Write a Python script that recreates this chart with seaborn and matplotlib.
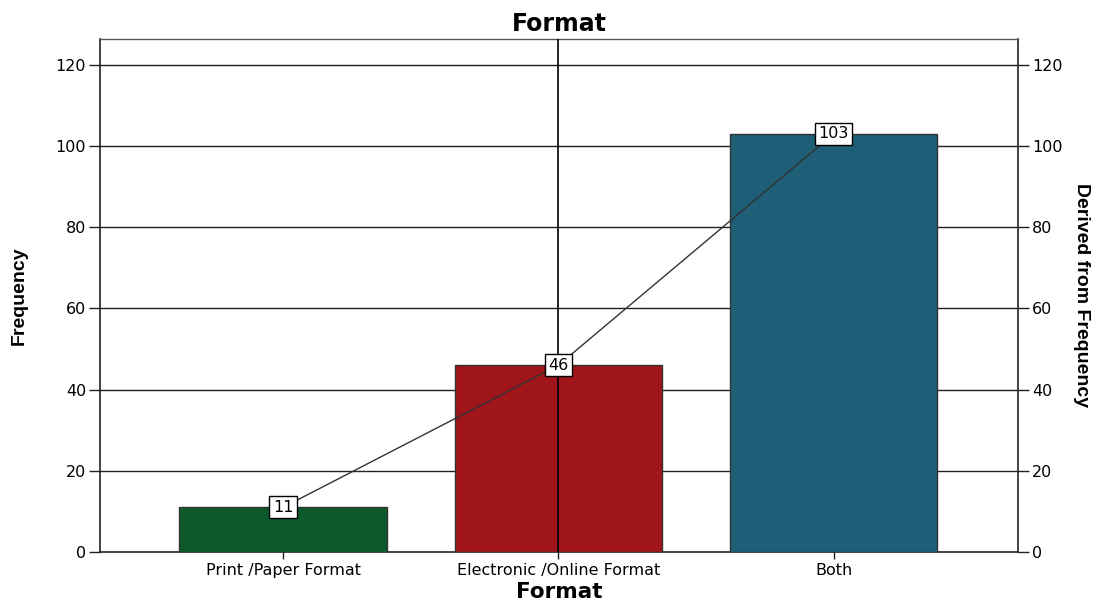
import matplotlib
matplotlib.use("Agg")
import matplotlib.pyplot as plt
import seaborn as sns
import pandas as pd
from matplotlib import font_manager

categories = ["Print /Paper Format", "Electronic /Online Format", "Both"]
frequencies = [11, 46, 103]
bar_colors = ["#0c5a2c", "#a0151a", "#1e5e76"]
y_ticks = [0, 20, 40, 60, 80, 100, 120]

sns.set_theme(style="white")
plt.rcParams["font.family"] = ["DejaVu Sans"]
plt.rcParams["text.color"] = "black"
plt.rcParams["axes.labelcolor"] = "black"
plt.rcParams["xtick.color"] = "black"
plt.rcParams["ytick.color"] = "black"

names = {f.name for f in font_manager.fontManager.ttflist}
narrow = "Liberation Sans Narrow" if "Liberation Sans Narrow" in names else "Liberation Sans"

df = pd.DataFrame({"Format": categories, "Frequency": frequencies})

fig = plt.figure(figsize=(10.93, 6.06), dpi=100)
ax = fig.add_axes([100 / 1093, 1 - 552 / 606, 918 / 1093, 513 / 606])

sns.barplot(data=df, x="Format", y="Frequency", hue="Format",
            palette=bar_colors, width=0.753, edgecolor="#333333",
            linewidth=1.0, legend=False, ax=ax, zorder=3, saturation=1)

ax.set_xlim(-0.665, 2.67)
ax.set_ylim(0, 126.4)
ax.set_yticks(y_ticks)
for y in y_ticks[1:]:
    ax.axhline(y, color="#222222", lw=1.0, zorder=1)
ax.axvline(1, color="black", lw=1.2, zorder=4)

# line through the bar tops with boxed value labels
ax.plot(range(len(frequencies)), frequencies, color="#333333", lw=1.0, zorder=5)
for i, v in enumerate(frequencies):
    ax.text(i, v, str(v), ha="center", va="center", fontsize=11.5, zorder=6,
            bbox=dict(boxstyle="square,pad=0.22", fc="white", ec="black", lw=1.0))

for side in ["left", "right", "bottom"]:
    ax.spines[side].set_color("#222222")
    ax.spines[side].set_linewidth(1.2)
ax.spines["top"].set_color("#555555")
ax.spines["top"].set_linewidth(1.0)

ax.tick_params(axis="y", direction="out", length=8, width=1, color="#222222",
               labelsize=11.5, pad=2, left=True)
ax.tick_params(axis="x", direction="out", length=5, width=1, color="#222222",
               labelsize=11.5, pad=3, bottom=True)

ax.set_xlabel("Format", fontsize=15.5, fontweight="bold", labelpad=3)
ax.set_ylabel("Frequency", fontsize=14, fontweight="bold", family=narrow, labelpad=20)
ax.set_title("Format", fontsize=17, fontweight="bold", pad=6)

ax2 = ax.twinx()
ax2.set_ylim(ax.get_ylim())
ax2.set_yticks(y_ticks)
ax2.tick_params(axis="y", direction="out", length=8, width=1, color="#222222",
                labelsize=11.5, pad=2, right=True)
for sp in ax2.spines.values():
    sp.set_visible(False)
ax2.set_ylabel("Derived from Frequency", fontsize=14, fontweight="bold",
               family=narrow, rotation=270, labelpad=20)

fig.savefig("out.png", dpi=100)
